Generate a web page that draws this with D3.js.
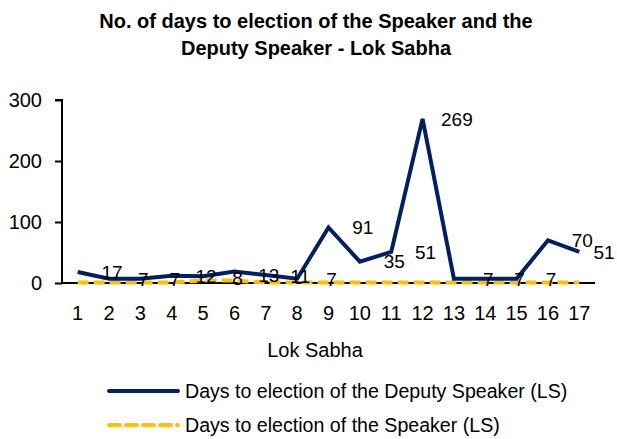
<!DOCTYPE html>
<html>
<head>
<meta charset="utf-8">
<script src="https://cdn.jsdelivr.net/npm/d3@7"></script>
<style>
  body { margin: 0; background: #fff; }
  svg { font-family: "Liberation Sans", Arial, sans-serif; }
</style>
</head>
<body>
<div id="chart"></div>
<script>
const lokSabha = ["1", "2", "3", "4", "5", "6", "7", "8", "9", "10", "11", "12", "13", "14", "15", "16", "17"];
const deputyDays = [18, 7, 7, 12, 11, 19, 13, 7, 91, 35, 51, 269, 7, 7, 7, 70, 51];
const speakerDays = [1, 1, 1, 1, 4, 4, 1, 1, 1, 1, 1, 1, 1, 1, 1, 1, 1];
// labels in the source sit one category to the right of their point
const pointLabels = [17, 7, 7, 12, 8, 13, 11, 7, 91, 35, 51, 269, 7, 7, 7, 70, 51];
const yTicks = [0, 100, 200, 300];

const width = 617;
const height = 439;
const margin = { top: 100, left: 62, right: 22, bottom: 156 };

const svg = d3.select("#chart").append("svg")
  .attr("width", width)
  .attr("height", height);

// title
const title = svg.append("text")
  .attr("text-anchor", "middle")
  .attr("font-weight", "bold")
  .attr("font-size", 20)
  .attr("fill", "#000");
title.append("tspan").attr("x", 316).attr("y", 28).text("No. of days to election of the Speaker and the");
title.append("tspan").attr("x", 316).attr("y", 55).text("Deputy Speaker - Lok Sabha");

const x = d3.scaleLinear()
  .domain([0.5, 17.5])
  .range([margin.left, width - margin.right]);

const y = d3.scaleLinear()
  .domain([0, 300])
  .range([283, 100]);

// y axis
const yAxis = svg.append("g")
  .attr("transform", `translate(${margin.left},0)`)
  .call(d3.axisLeft(y).tickValues(yTicks).tickSize(7).tickPadding(13));
yAxis.select(".domain").attr("stroke", "#000").attr("stroke-width", 2).attr("d", `M-7,${y(300)}H0V${y(0)}`);
yAxis.selectAll(".tick line").attr("stroke", "#000").attr("stroke-width", 2);
yAxis.selectAll(".tick text").attr("font-size", 20).attr("font-family", "Liberation Sans, Arial, sans-serif").attr("fill", "#000");

// x axis labels
svg.append("g")
  .selectAll("text")
  .data(lokSabha)
  .join("text")
  .attr("x", (d, i) => x(i + 1))
  .attr("y", 320)
  .attr("text-anchor", "middle")
  .attr("font-size", 20)
  .attr("fill", "#000")
  .text(d => d);

svg.append("text")
  .attr("x", 315)
  .attr("y", 357)
  .attr("text-anchor", "middle")
  .attr("font-size", 20)
  .attr("fill", "#000")
  .text("Lok Sabha");

const line = (vals) => d3.line()
  .x((d, i) => x(i + 1))
  .y(d => y(d))(vals);

// x axis line
svg.append("line")
  .attr("x1", margin.left)
  .attr("x2", width - margin.right)
  .attr("y1", y(0))
  .attr("y2", y(0))
  .attr("stroke", "#000")
  .attr("stroke-width", 2);

// speaker line (dashed)
svg.append("path")
  .attr("d", line(speakerDays))
  .attr("fill", "none")
  .attr("stroke", "#FFC000")
  .attr("stroke-width", 4)
  .attr("stroke-dasharray", "11,5");

// deputy line
svg.append("path")
  .attr("d", line(deputyDays))
  .attr("fill", "none")
  .attr("stroke", "#002060")
  .attr("stroke-width", 4)
  .attr("stroke-linejoin", "miter");

// point labels
svg.append("g")
  .selectAll("text")
  .data(pointLabels)
  .join("text")
  .attr("x", (d, i) => Math.min(x(i + 2) + 3, width - 13))
  .attr("y", d => y(d))
  .attr("dy", "0.36em")
  .attr("text-anchor", "middle")
  .attr("font-size", 19)
  .attr("fill", "#000")
  .text(d => d);

// legend
const legend = svg.append("g");
const legendItems = [
  { label: "Days to election of the Deputy Speaker (LS)", color: "#002060", dash: null, y: 391 },
  { label: "Days to election of the Speaker (LS)", color: "#FFC000", dash: "11,6", y: 425 }
];
legendItems.forEach(item => {
  legend.append("line")
    .attr("x1", 109)
    .attr("x2", 178)
    .attr("y1", item.y)
    .attr("y2", item.y)
    .attr("stroke", item.color)
    .attr("stroke-width", 4)
    .attr("stroke-linecap", "round")
    .attr("stroke-dasharray", item.dash);
  legend.append("text")
    .attr("x", 185)
    .attr("y", item.y)
    .attr("dy", "0.36em")
    .attr("font-size", 19.6)
    .attr("fill", "#000")
    .text(item.label);
});
</script>
</body>
</html>
